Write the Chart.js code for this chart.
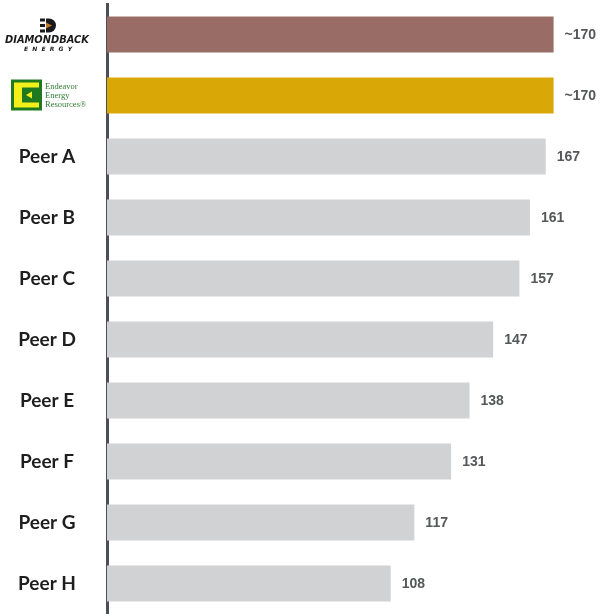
<!DOCTYPE html>
<html>
<head>
<meta charset="utf-8">
<script src="https://cdn.jsdelivr.net/npm/chart.js@4/dist/chart.umd.min.js"></script>
<style>
  html, body { margin: 0; padding: 0; background: #fff; }
  #wrap { width: 603px; height: 614px; position: relative; }
</style>
</head>
<body>
<div id="wrap"><canvas id="peer-chart"></canvas></div>
<script>
// categories top to bottom, first two are drawn as logos
let companies = ["Diamondback", "Endeavor", "Peer A", "Peer B", "Peer C", "Peer D", "Peer E", "Peer F", "Peer G", "Peer H"];
let values = [170, 170, 167, 161, 157, 147, 138, 131, 117, 108];
let valueLabels = ["~170", "~170", "167", "161", "157", "147", "138", "131", "117", "108"];
let barColors = ["#9a6c66", "#daa806", "#d1d2d4", "#d1d2d4", "#d1d2d4", "#d1d2d4", "#d1d2d4", "#d1d2d4", "#d1d2d4", "#d1d2d4"];

function drawDiamondback(ctx, cx, cy) {
    ctx.save();
    // little "D" mark above the name
    let ix = cx - 7, iy = cy - 16;
    ctx.fillStyle = "#1a1a1a";
    ctx.fillRect(ix, iy, 5, 3);
    ctx.fillRect(ix, iy + 5.5, 5, 3);
    ctx.fillRect(ix, iy + 11, 5, 3);
    ctx.beginPath();
    ctx.moveTo(ix + 6, iy);
    ctx.lineTo(ix + 9, iy);
    ctx.arc(ix + 9, iy + 7, 7, -Math.PI / 2, Math.PI / 2);
    ctx.lineTo(ix + 6, iy + 14);
    ctx.closePath();
    ctx.fill();
    ctx.fillStyle = "#c27b2c";
    ctx.beginPath();
    ctx.moveTo(ix + 6, iy + 4);
    ctx.lineTo(ix + 12, iy + 7);
    ctx.lineTo(ix + 6, iy + 10);
    ctx.closePath();
    ctx.fill();
    // name
    ctx.fillStyle = "#1a1a1a";
    ctx.textAlign = "center";
    ctx.textBaseline = "middle";
    ctx.font = "italic 900 10px 'DejaVu Sans'";
    let w = ctx.measureText("DIAMONDBACK").width;
    ctx.save();
    ctx.translate(cx, cy + 6);
    ctx.scale(84 / w, 1);
    ctx.fillText("DIAMONDBACK", 0, 0);
    ctx.restore();
    ctx.font = "italic bold 6px 'DejaVu Sans'";
    ctx.fillText("E  N  E  R  G  Y", cx + 1, cy + 14.5);
    ctx.restore();
}

function drawEndeavor(ctx, cx, cy) {
    ctx.save();
    let x = cx - 36, y = cy - 16;
    ctx.fillStyle = "#1f7a1f";
    ctx.fillRect(x, y, 31, 31);
    ctx.fillStyle = "#f4ef1a";
    ctx.fillRect(x + 3, y + 3, 25, 25);
    ctx.fillStyle = "#1f7a1f";
    ctx.fillRect(x + 11, y + 8, 17, 15);
    ctx.fillStyle = "#f4ef1a";
    ctx.beginPath();
    ctx.moveTo(x + 15, y + 15.5);
    ctx.lineTo(x + 21, y + 12);
    ctx.lineTo(x + 21, y + 19);
    ctx.closePath();
    ctx.fill();
    ctx.fillStyle = "#2e7d32";
    ctx.font = "8.5px 'Liberation Serif'";
    ctx.textAlign = "left";
    ctx.textBaseline = "middle";
    ctx.fillText("Endeavor", x + 34, cy - 9);
    ctx.fillText("Energy", x + 34, cy);
    ctx.fillText("Resources\u00AE", x + 34, cy + 9);
    ctx.restore();
}

let labelPlugin = {
    id: "labelPlugin",
    afterDatasetsDraw(chart) {
        let ctx = chart.ctx;
        let meta = chart.getDatasetMeta(0);
        ctx.save();
        ctx.fillStyle = "#555759";
        ctx.font = "bold 14px 'Liberation Sans'";
        ctx.textAlign = "left";
        ctx.textBaseline = "middle";
        meta.data.forEach(function (bar, i) {
            ctx.fillText(valueLabels[i], bar.x + 11, bar.y + 1);
        });
        ctx.restore();
        let yScale = chart.scales.y;
        let cx = 47;
        drawDiamondback(ctx, cx, yScale.getPixelForValue(0));
        drawEndeavor(ctx, cx, yScale.getPixelForValue(1));
    }
};

let peerChart = new Chart(document.getElementById("peer-chart").getContext("2d"), {
    type: "bar",
    data: {
        labels: companies,
        datasets: [{
            data: values,
            backgroundColor: barColors,
            barPercentage: 0.59,
            categoryPercentage: 1
        }]
    },
    options: {
        indexAxis: "y",
        responsive: true,
        maintainAspectRatio: false,
        animation: false,
        layout: { padding: { top: 4, right: 10, bottom: 0, left: 0 } },
        plugins: {
            legend: { display: false },
            tooltip: { enabled: false }
        },
        scales: {
            x: {
                display: false,
                min: 0,
                max: 185
            },
            y: {
                afterFit(scale) {
                    scale.width = 107;
                    scale.paddingTop = 0;
                    scale.paddingBottom = 0;
                },
                grid: { display: true, drawOnChartArea: false, drawTicks: false },
                border: { display: true, color: "#4b5056", width: 3 },
                ticks: {
                    crossAlign: "center",
                    padding: 31,
                    color: "#1e1e1e",
                    font: { family: "Lato", weight: "bold", size: 19 },
                    callback: function (value, index) {
                        return index < 2 ? "" : companies[index];
                    }
                }
            }
        }
    },
    plugins: [labelPlugin]
});
</script>
</body>
</html>
